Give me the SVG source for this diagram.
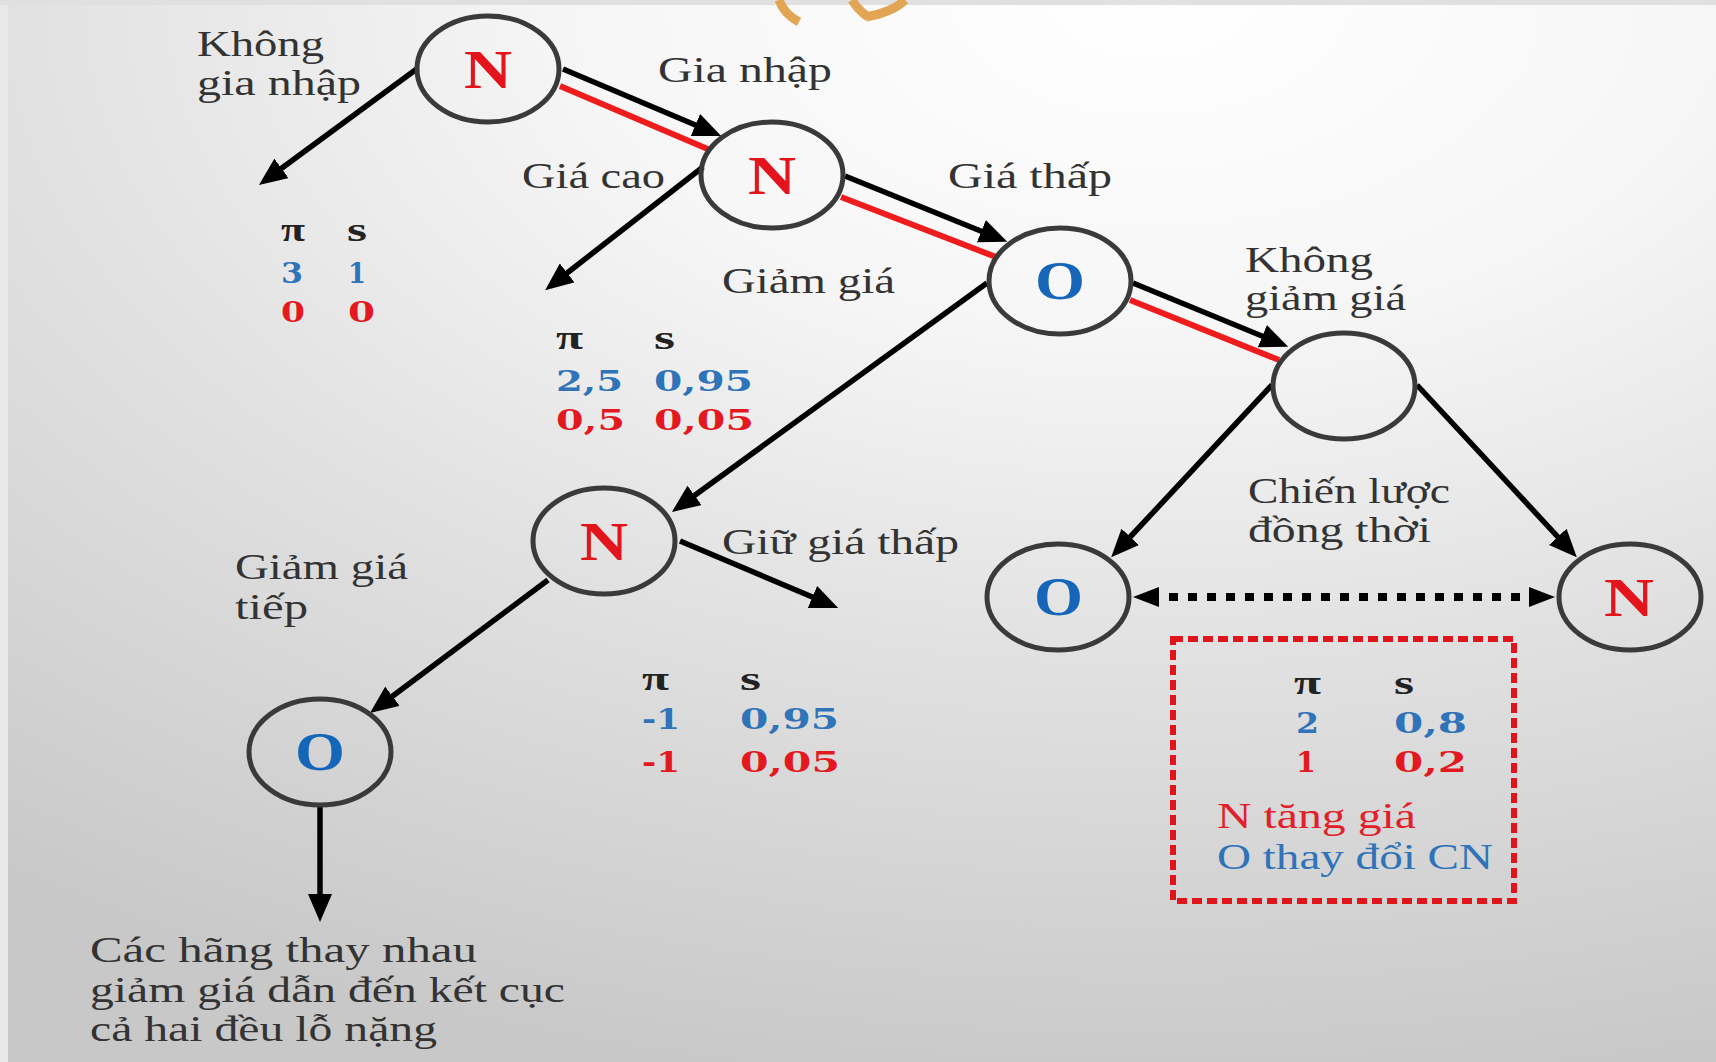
<svg xmlns="http://www.w3.org/2000/svg" width="1716" height="1062" viewBox="0 0 1716 1062">
  <defs>
    <radialGradient id="bg" gradientUnits="userSpaceOnUse" cx="1150" cy="0" r="1100" gradientTransform="translate(1150 0) scale(1.73 1) translate(-1150 0)">
      <stop offset="0" stop-color="#ffffff"/>
      <stop offset="0.3" stop-color="#f6f6f6"/>
      <stop offset="0.6" stop-color="#e1e1e1"/>
      <stop offset="1" stop-color="#c8c8c8"/>
    </radialGradient>
    <marker id="arr" viewBox="0 0 28 24" refX="18" refY="12" markerWidth="28" markerHeight="24" markerUnits="userSpaceOnUse" orient="auto">
      <path d="M0,0 L28,12 L0,24 z" fill="#000"/>
    </marker>
    <marker id="tri" viewBox="0 0 26 20" refX="0" refY="10" markerWidth="26" markerHeight="20" markerUnits="userSpaceOnUse" orient="auto-start-reverse">
      <path d="M0,0 L26,10 L0,20 z" fill="#000"/>
    </marker>
  </defs>
  <style>
    .node { fill: none; stroke: #3a3a3a; stroke-width: 5; }
    .lblN { font-family: "Liberation Serif", serif; font-weight: bold; font-size: 54px; fill: #e3141c; }
    .lblO { font-family: "Liberation Serif", serif; font-weight: bold; font-size: 54px; fill: #1565b8; }
    .lab { font-family: "Liberation Serif", serif; font-size: 35px; fill: #333333; }
    .pay { font-family: "DejaVu Serif", serif; font-weight: bold; font-size: 28px; }
    .pi { font-family: "Liberation Serif", serif; font-weight: bold; font-size: 34px; fill: #222222; }
    .bl { fill: #2f73b8; }
    .rd { fill: #e3191f; }
    .edge { stroke: #000; stroke-width: 5.5; fill: none; marker-end: url(#arr); }
    .eq { stroke: #ee1c1c; stroke-width: 6; fill: none; }
  </style>

  <!-- backdrop -->
  <rect x="0" y="0" width="1716" height="1062" fill="url(#bg)"/>
  <rect x="0" y="0" width="8" height="1062" fill="#e9e9e9"/>
  <rect x="0" y="0" width="1716" height="5" fill="#e0e0e0"/>
  <g fill="none" stroke="#e2a553" stroke-width="9">
    <path d="M779,0 Q784,14 799,22"/>
    <path d="M905,0 Q893,12 866,17"/>
    <path d="M852,0 Q858,10 868,17"/>
  </g>

  <!-- connectors -->
  <g id="connectors">
    <!-- equilibrium path -->
    <line class="eq" x1="560" y1="86" x2="710" y2="150"/>
    <line class="eq" x1="841" y1="197" x2="996" y2="257"/>
    <line class="eq" x1="1130" y1="300" x2="1279" y2="360"/>
    <!-- moves -->
    <line class="edge" x1="418" y1="68" x2="267" y2="179"/>
    <line class="edge" x1="563" y1="69" x2="712" y2="132"/>
    <line class="edge" x1="703" y1="167" x2="553" y2="284"/>
    <line class="edge" x1="845" y1="176" x2="998" y2="238"/>
    <line class="edge" x1="1133" y1="283" x2="1279" y2="343"/>
    <line class="edge" x1="987" y1="283" x2="680" y2="506"/>
    <line class="edge" x1="680" y1="541" x2="829" y2="604"/>
    <line class="edge" x1="548" y1="580" x2="378" y2="707"/>
    <line class="edge" x1="320" y1="807" x2="320" y2="912"/>
    <line class="edge" x1="1272" y1="385" x2="1118" y2="550"/>
    <line class="edge" x1="1417" y1="385" x2="1570" y2="550"/>
    <!-- simultaneous move link -->
    <line x1="1159" y1="597" x2="1529" y2="597" stroke="#000" stroke-width="8" stroke-dasharray="9 10" stroke-dashoffset="9" marker-start="url(#tri)" marker-end="url(#tri)"/>
  </g>

  <!-- decision nodes -->
  <g id="node-n1">
    <ellipse class="node" cx="488" cy="69" rx="71" ry="53"/>
    <text class="lblN" x="464" y="88" textLength="48" lengthAdjust="spacingAndGlyphs">N</text>
  </g>
  <g id="node-n2">
    <ellipse class="node" cx="772" cy="175" rx="71" ry="53"/>
    <text class="lblN" x="748" y="194" textLength="48" lengthAdjust="spacingAndGlyphs">N</text>
  </g>
  <g id="node-o1">
    <ellipse class="node" cx="1060" cy="281" rx="71" ry="53"/>
    <text class="lblO" x="1035" y="299" textLength="50" lengthAdjust="spacingAndGlyphs">O</text>
  </g>
  <g id="node-e">
    <ellipse class="node" cx="1344" cy="386" rx="71" ry="53"/>
  </g>
  <g id="node-n3">
    <ellipse class="node" cx="604" cy="541" rx="71" ry="53"/>
    <text class="lblN" x="580" y="560" textLength="48" lengthAdjust="spacingAndGlyphs">N</text>
  </g>
  <g id="node-o2">
    <ellipse class="node" cx="320" cy="752" rx="71" ry="53"/>
    <text class="lblO" x="295" y="770" textLength="50" lengthAdjust="spacingAndGlyphs">O</text>
  </g>
  <g id="node-o3">
    <ellipse class="node" cx="1058" cy="597" rx="71" ry="53"/>
    <text class="lblO" x="1034" y="615" textLength="49" lengthAdjust="spacingAndGlyphs">O</text>
  </g>
  <g id="node-n4">
    <ellipse class="node" cx="1630" cy="597" rx="71" ry="53"/>
    <text class="lblN" x="1604" y="616" textLength="50" lengthAdjust="spacingAndGlyphs">N</text>
  </g>

  <!-- move labels -->
  <g id="labels">
    <text class="lab" x="197" y="56" textLength="127" lengthAdjust="spacingAndGlyphs">Không</text>
    <text class="lab" x="197" y="95" textLength="164" lengthAdjust="spacingAndGlyphs">gia nhập</text>
    <text class="lab" x="658" y="82" textLength="174" lengthAdjust="spacingAndGlyphs">Gia nhập</text>
    <text class="lab" x="522" y="188" textLength="143" lengthAdjust="spacingAndGlyphs">Giá cao</text>
    <text class="lab" x="948" y="188" textLength="164" lengthAdjust="spacingAndGlyphs">Giá thấp</text>
    <text class="lab" x="722" y="293" textLength="173" lengthAdjust="spacingAndGlyphs">Giảm giá</text>
    <text class="lab" x="1245" y="272" textLength="128" lengthAdjust="spacingAndGlyphs">Không</text>
    <text class="lab" x="1245" y="310" textLength="161" lengthAdjust="spacingAndGlyphs">giảm giá</text>
    <text class="lab" x="722" y="554" textLength="237" lengthAdjust="spacingAndGlyphs">Giữ giá thấp</text>
    <text class="lab" x="235" y="579" textLength="173" lengthAdjust="spacingAndGlyphs">Giảm giá</text>
    <text class="lab" x="235" y="619" textLength="73" lengthAdjust="spacingAndGlyphs">tiếp</text>
    <text class="lab" x="1248" y="503" textLength="202" lengthAdjust="spacingAndGlyphs">Chiến lược</text>
    <text class="lab" x="1248" y="542" textLength="183" lengthAdjust="spacingAndGlyphs">đồng thời</text>
    <text class="lab" x="90" y="962" textLength="387" lengthAdjust="spacingAndGlyphs">Các hãng thay nhau</text>
    <text class="lab" x="90" y="1002" textLength="475" lengthAdjust="spacingAndGlyphs">giảm giá dẫn đến kết cục</text>
    <text class="lab" x="90" y="1041" textLength="347" lengthAdjust="spacingAndGlyphs">cả hai đều lỗ nặng</text>
  </g>

  <!-- payoffs -->
  <g id="payoff-1" class="pay">
    <text class="pi" x="281" y="241" textLength="24" lengthAdjust="spacingAndGlyphs">π</text>
    <text class="pi" x="347" y="241" textLength="20" lengthAdjust="spacingAndGlyphs">s</text>
    <text class="bl" x="281" y="283" textLength="22" lengthAdjust="spacingAndGlyphs">3</text>
    <text class="bl" x="348" y="283" textLength="18" lengthAdjust="spacingAndGlyphs">1</text>
    <text class="rd" x="281" y="322" textLength="24" lengthAdjust="spacingAndGlyphs">0</text>
    <text class="rd" x="348" y="322" textLength="27" lengthAdjust="spacingAndGlyphs">0</text>
  </g>
  <g id="payoff-2" class="pay">
    <text class="pi" x="556" y="349" textLength="27" lengthAdjust="spacingAndGlyphs">π</text>
    <text class="pi" x="654" y="349" textLength="21" lengthAdjust="spacingAndGlyphs">s</text>
    <text class="bl" x="556" y="391" textLength="67" lengthAdjust="spacingAndGlyphs">2,5</text>
    <text class="bl" x="654" y="391" textLength="99" lengthAdjust="spacingAndGlyphs">0,95</text>
    <text class="rd" x="556" y="430" textLength="69" lengthAdjust="spacingAndGlyphs">0,5</text>
    <text class="rd" x="654" y="430" textLength="100" lengthAdjust="spacingAndGlyphs">0,05</text>
  </g>
  <g id="payoff-3" class="pay">
    <text class="pi" x="642" y="690" textLength="27" lengthAdjust="spacingAndGlyphs">π</text>
    <text class="pi" x="740" y="690" textLength="21" lengthAdjust="spacingAndGlyphs">s</text>
    <text class="bl" x="642" y="729" textLength="38" lengthAdjust="spacingAndGlyphs">-1</text>
    <text class="bl" x="740" y="729" textLength="99" lengthAdjust="spacingAndGlyphs">0,95</text>
    <text class="rd" x="642" y="772" textLength="38" lengthAdjust="spacingAndGlyphs">-1</text>
    <text class="rd" x="740" y="772" textLength="100" lengthAdjust="spacingAndGlyphs">0,05</text>
  </g>
  <g id="payoff-4">
    <rect x="1173" y="639" width="341" height="262" fill="none" stroke="#e0141b" stroke-width="6" stroke-dasharray="10 5"/>
    <g class="pay">
      <text class="pi" x="1294" y="694" textLength="27" lengthAdjust="spacingAndGlyphs">π</text>
      <text class="pi" x="1394" y="694" textLength="20" lengthAdjust="spacingAndGlyphs">s</text>
      <text class="bl" x="1296" y="733" textLength="23" lengthAdjust="spacingAndGlyphs">2</text>
      <text class="bl" x="1394" y="733" textLength="73" lengthAdjust="spacingAndGlyphs">0,8</text>
      <text class="rd" x="1296" y="772" textLength="20" lengthAdjust="spacingAndGlyphs">1</text>
      <text class="rd" x="1394" y="772" textLength="73" lengthAdjust="spacingAndGlyphs">0,2</text>
    </g>
    <text class="lab" x="1217" y="828" textLength="199" lengthAdjust="spacingAndGlyphs" style="fill:#e2202a">N tăng giá</text>
    <text class="lab" x="1217" y="869" textLength="276" lengthAdjust="spacingAndGlyphs" style="fill:#2f73b8">O thay đổi CN</text>
  </g>
</svg>
